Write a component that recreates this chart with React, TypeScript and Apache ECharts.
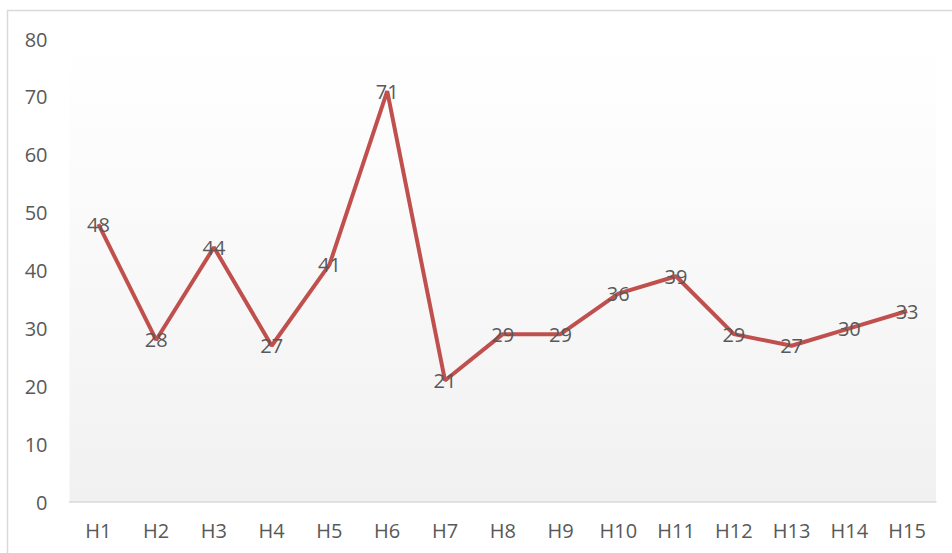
import React, { useEffect, useRef } from "react";
import * as echarts from "echarts";

const categories = ["H1", "H2", "H3", "H4", "H5", "H6", "H7", "H8", "H9", "H10", "H11", "H12", "H13", "H14", "H15"];
const values = [48, 28, 44, 27, 41, 71, 21, 29, 29, 36, 39, 29, 27, 30, 33];
const yMin = 0;
const yMax = 80;
const yStep = 10;

export default function App() {
  const ref = useRef<HTMLDivElement>(null);
  useEffect(() => {
    if (!ref.current) return;
    const chart = echarts.init(ref.current, null, { renderer: "svg" });
    const font = "'Open Sans', sans-serif";
    chart.setOption({
      animation: false,
      backgroundColor: "#ffffff",
      graphic: [
        {
          type: "rect",
          shape: { x: 7.5, y: 10.5, width: 1000, height: 1000 },
          style: { fill: "none", stroke: "#d9d9d9", lineWidth: 1.5 },
          z: -1,
        },
      ],
      grid: {
        left: 69.5,
        right: 16,
        top: 39,
        bottom: 51,
        show: true,
        borderWidth: 0,
        backgroundColor: {
          type: "linear",
          x: 0,
          y: 0,
          x2: 0,
          y2: 1,
          colorStops: [
            { offset: 0, color: "#ffffff" },
            { offset: 0.1, color: "#fefefe" },
            { offset: 1, color: "#f1f1f1" },
          ],
        },
      },
      xAxis: {
        type: "category",
        data: categories,
        boundaryGap: true,
        axisLine: { show: true, lineStyle: { color: "#d9d9d9", width: 1.5 } },
        axisTick: { show: false },
        axisLabel: { color: "#595959", fontFamily: font, fontSize: 20, margin: 18 },
        splitLine: { show: false },
      },
      yAxis: {
        type: "value",
        min: yMin,
        max: yMax,
        interval: yStep,
        axisLine: { show: false },
        axisTick: { show: false },
        splitLine: { show: false },
        axisLabel: { color: "#595959", fontFamily: font, fontSize: 20, margin: 22 },
      },
      series: [
        {
          type: "line",
          data: values,
          symbol: "circle",
          symbolSize: 0.01,
          showSymbol: true,
          lineStyle: { color: "#c0504d", width: 4 },
          itemStyle: { color: "#c0504d" },
          label: {
            show: true,
            position: "inside",
            color: "#595959",
            fontFamily: font,
            fontSize: 20,
          },
        },
      ],
    });
    return () => chart.dispose();
  }, []);
  return (
    <div
      ref={ref}
      style={{ position: "fixed", left: 0, top: 0, width: 952, height: 553 }}
    />
  );
}
